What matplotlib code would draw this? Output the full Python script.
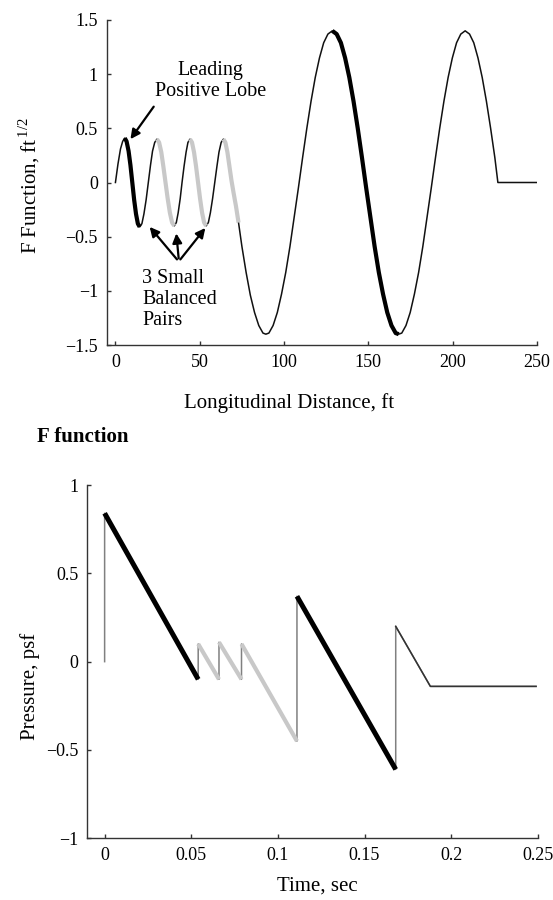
import numpy as np
import matplotlib
matplotlib.use("Agg")
import matplotlib.pyplot as plt

# --- font: Times-like serif ---
plt.rcParams["font.family"] = ["Liberation Serif", "DejaVu Serif"]
plt.rcParams["mathtext.fontset"] = "custom"
plt.rcParams["mathtext.rm"] = "Liberation Serif"

# --- top: F function ---
f_dist = [
    0.0, 1.5, 3.0, 4.3, 5.5,
    6.6, 7.8, 8.9, 10.0, 11.1, 12.2, 13.3, 14.4,
    15.7, 16.9, 18.2, 19.5, 20.8, 22.0, 23.3, 24.6,
    25.9, 27.2, 28.4, 29.7, 31.0, 32.3, 33.6, 34.9,
    36.1, 37.2, 38.4, 39.5, 40.7, 41.9, 43.0, 44.2,
    45.4, 46.6, 47.8, 49.0, 50.2, 51.4, 52.6, 53.8,
    55.1, 56.3, 57.6, 58.9, 60.2, 61.4, 62.7, 64.0,
    65.2, 66.4, 67.6, 68.8, 70.0, 71.5, 73.0,
    75.0, 77.5, 80.0, 82.5, 85.0, 87.5, 89.2, 91.0, 93.5, 96.0, 98.5,
    101.0, 103.5, 106.0, 108.5, 111.0, 113.5, 116.0, 118.5, 121.0, 123.5, 126.0,
    128.6,
    131.2, 133.7, 136.2, 138.7, 141.2, 143.7, 146.2, 148.7,
    151.2, 153.7, 156.2, 158.7, 161.2, 163.7, 166.2, 168.0,
    169.8, 172.3, 174.8, 177.3, 179.8, 182.3, 184.8, 187.3,
    189.8, 192.3, 194.8, 197.3, 199.8, 202.3, 204.8, 207.4,
    210.0, 212.5, 215.0, 217.5, 220.0, 222.5, 225.0, 226.8,
    250.0,
]
f_val = [
    0.0, 0.17, 0.31, 0.38, 0.41,
    0.38, 0.29, 0.16, 0.0, -0.16, -0.29, -0.38, -0.41,
    -0.38, -0.29, -0.16, 0.0, 0.16, 0.29, 0.37, 0.40,
    0.37, 0.28, 0.15, 0.0, -0.15, -0.28, -0.37, -0.40,
    -0.37, -0.28, -0.15, 0.0, 0.15, 0.28, 0.37, 0.40,
    0.37, 0.28, 0.15, 0.0, -0.15, -0.28, -0.37, -0.40,
    -0.37, -0.28, -0.15, 0.0, 0.15, 0.28, 0.37, 0.40,
    0.37, 0.28, 0.15, 0.02, -0.09, -0.22, -0.37,
    -0.59, -0.83, -1.04, -1.20, -1.32, -1.39, -1.40, -1.39, -1.32, -1.20, -1.03,
    -0.83, -0.59, -0.32, -0.05, 0.23, 0.50, 0.75, 0.97, 1.15, 1.29, 1.37,
    1.40,
    1.37, 1.29, 1.15, 0.97, 0.75, 0.50, 0.23, -0.05,
    -0.32, -0.59, -0.83, -1.03, -1.20, -1.32, -1.39, -1.40,
    -1.39, -1.32, -1.20, -1.03, -0.83, -0.59, -0.32, -0.05,
    0.23, 0.50, 0.75, 0.97, 1.15, 1.29, 1.37, 1.40,
    1.37, 1.29, 1.15, 0.97, 0.75, 0.50, 0.23, 0.0,
    0.0,
]
lead_lobe = [(5.5, 14.4), (128.6, 168.0)]          # thick black parts
balanced_pairs = [(24.6, 34.9), (44.2, 53.8), (64.0, 73.0)]  # grey parts

top_xticks = [0, 50, 100, 150, 200, 250]
top_yticks = [-1.5, -1, -0.5, 0, 0.5, 1, 1.5]
top_ylabels = ["\u22121.5", "\u22121", "\u22120.5", "0", "0.5", "1", "1.5"]

# --- bottom: pressure signature ---
time_s = [0.0, 0.0, 0.054, 0.054, 0.066, 0.066, 0.079, 0.079,
          0.111, 0.111, 0.168, 0.168, 0.188, 0.249]
pressure = [0.0, 0.84, -0.10, 0.10, -0.10, 0.11, -0.10, 0.10,
            -0.45, 0.37, -0.61, 0.20, -0.14, -0.14]
ramp_kind = ["black", "grey", "grey", "grey", "black"]   # ramps after each jump

bot_xticks = [0, 0.05, 0.1, 0.15, 0.2, 0.25]
bot_xlabels = ["0", "0.05", "0.1", "0.15", "0.2", "0.25"]
bot_yticks = [-1, -0.5, 0, 0.5, 1]
bot_ylabels = ["\u22121", "\u22120.5", "0", "0.5", "1"]

GREY = "#c8c8c8"


def style_axes(ax):
    for s in ["top", "right"]:
        ax.spines[s].set_visible(False)
    for s in ["left", "bottom"]:
        ax.spines[s].set_color("#333333")
        ax.spines[s].set_linewidth(1.0)
    ax.tick_params(direction="in", length=3, width=1.0, color="#333333",
                   labelsize=13, pad=6.5)


fig = plt.figure(figsize=(5.53, 9.0), dpi=100)

# --- top plot ---
ax1 = fig.add_axes([107 / 553, 1 - 345 / 900, 430 / 553, 325 / 900])
x = np.array(f_dist)
y = np.array(f_val)
ax1.plot(x, y, color="#111111", lw=1.1)
for a, b in balanced_pairs:
    m = (x >= a) & (x <= b)
    ax1.plot(x[m], y[m], color=GREY, lw=3.0, solid_capstyle="butt")
for a, b in lead_lobe:
    m = (x >= a) & (x <= b)
    ax1.plot(x[m], y[m], color="black", lw=3.0, solid_capstyle="butt")

ax1.set_xlim(-5, 250)
ax1.set_ylim(-1.5, 1.5)
ax1.set_xticks(top_xticks)
ax1.set_yticks(top_yticks)
ax1.set_yticklabels(top_ylabels)
style_axes(ax1)
ax1.set_xlabel("Longitudinal Distance, ft", fontsize=15)
ax1.xaxis.set_label_coords(0.423, -0.148)
ax1.set_ylabel(r"F Function, ft$^{\,\mathregular{1/2}}$", fontsize=15)
ax1.yaxis.set_label_coords(-0.151, 0.49)

ax1.text(56.2, 0.935, "Leading\nPositive Lobe", fontsize=14.5, ha="center",
         va="center", linespacing=1.15)
ax1.annotate("", xy=(8.9, 0.40), xytext=(22.7, 0.70),
             arrowprops=dict(arrowstyle="-|>", color="black", lw=1.6,
                             mutation_scale=14, shrinkA=0, shrinkB=0))
ax1.text(15.8, -1.08, "3 Small\nBalanced\nPairs", fontsize=14.5, ha="left",
         va="center", linespacing=1.15)
arrow_heads = [(20.3, -0.41), (36.1, -0.47), (53.3, -0.42)]
arrow_tails = [(36.5, -0.71), (37.5, -0.70), (38.5, -0.71)]
for head, tail in zip(arrow_heads, arrow_tails):
    ax1.annotate("", xy=head, xytext=tail,
                 arrowprops=dict(arrowstyle="-|>", color="black", lw=1.6,
                                 mutation_scale=14, shrinkA=0, shrinkB=0))

fig.text(36.7 / 553, 1 - 437 / 900, "F function", fontsize=15,
         fontweight="bold", ha="left", va="center")

# --- bottom plot ---
ax2 = fig.add_axes([87.3 / 553, 1 - 838.3 / 900, 450.5 / 553, 353.3 / 900])
ax2.plot(time_s, pressure, color="#808080", lw=1.1)
for i, kind in enumerate(ramp_kind):
    seg_t = time_s[2 * i + 1:2 * i + 3]
    seg_p = pressure[2 * i + 1:2 * i + 3]
    if kind == "black":
        ax2.plot(seg_t, seg_p, color="black", lw=3.6, solid_capstyle="butt")
    else:
        ax2.plot(seg_t, seg_p, color=GREY, lw=3.0, solid_capstyle="butt")
ax2.plot(time_s[11:], pressure[11:], color="#333333", lw=1.1)

ax2.set_xlim(-0.01, 0.25)
ax2.set_ylim(-1, 1)
ax2.set_xticks(bot_xticks)
ax2.set_xticklabels(bot_xlabels)
ax2.set_yticks(bot_yticks)
ax2.set_yticklabels(bot_ylabels)
style_axes(ax2)
ax2.set_xlabel("Time, sec", fontsize=15)
ax2.xaxis.set_label_coords(0.51, -0.108)
ax2.set_ylabel("Pressure, psf", fontsize=15)
ax2.yaxis.set_label_coords(-0.105, 0.431)

fig.savefig("out.png", dpi=100)
